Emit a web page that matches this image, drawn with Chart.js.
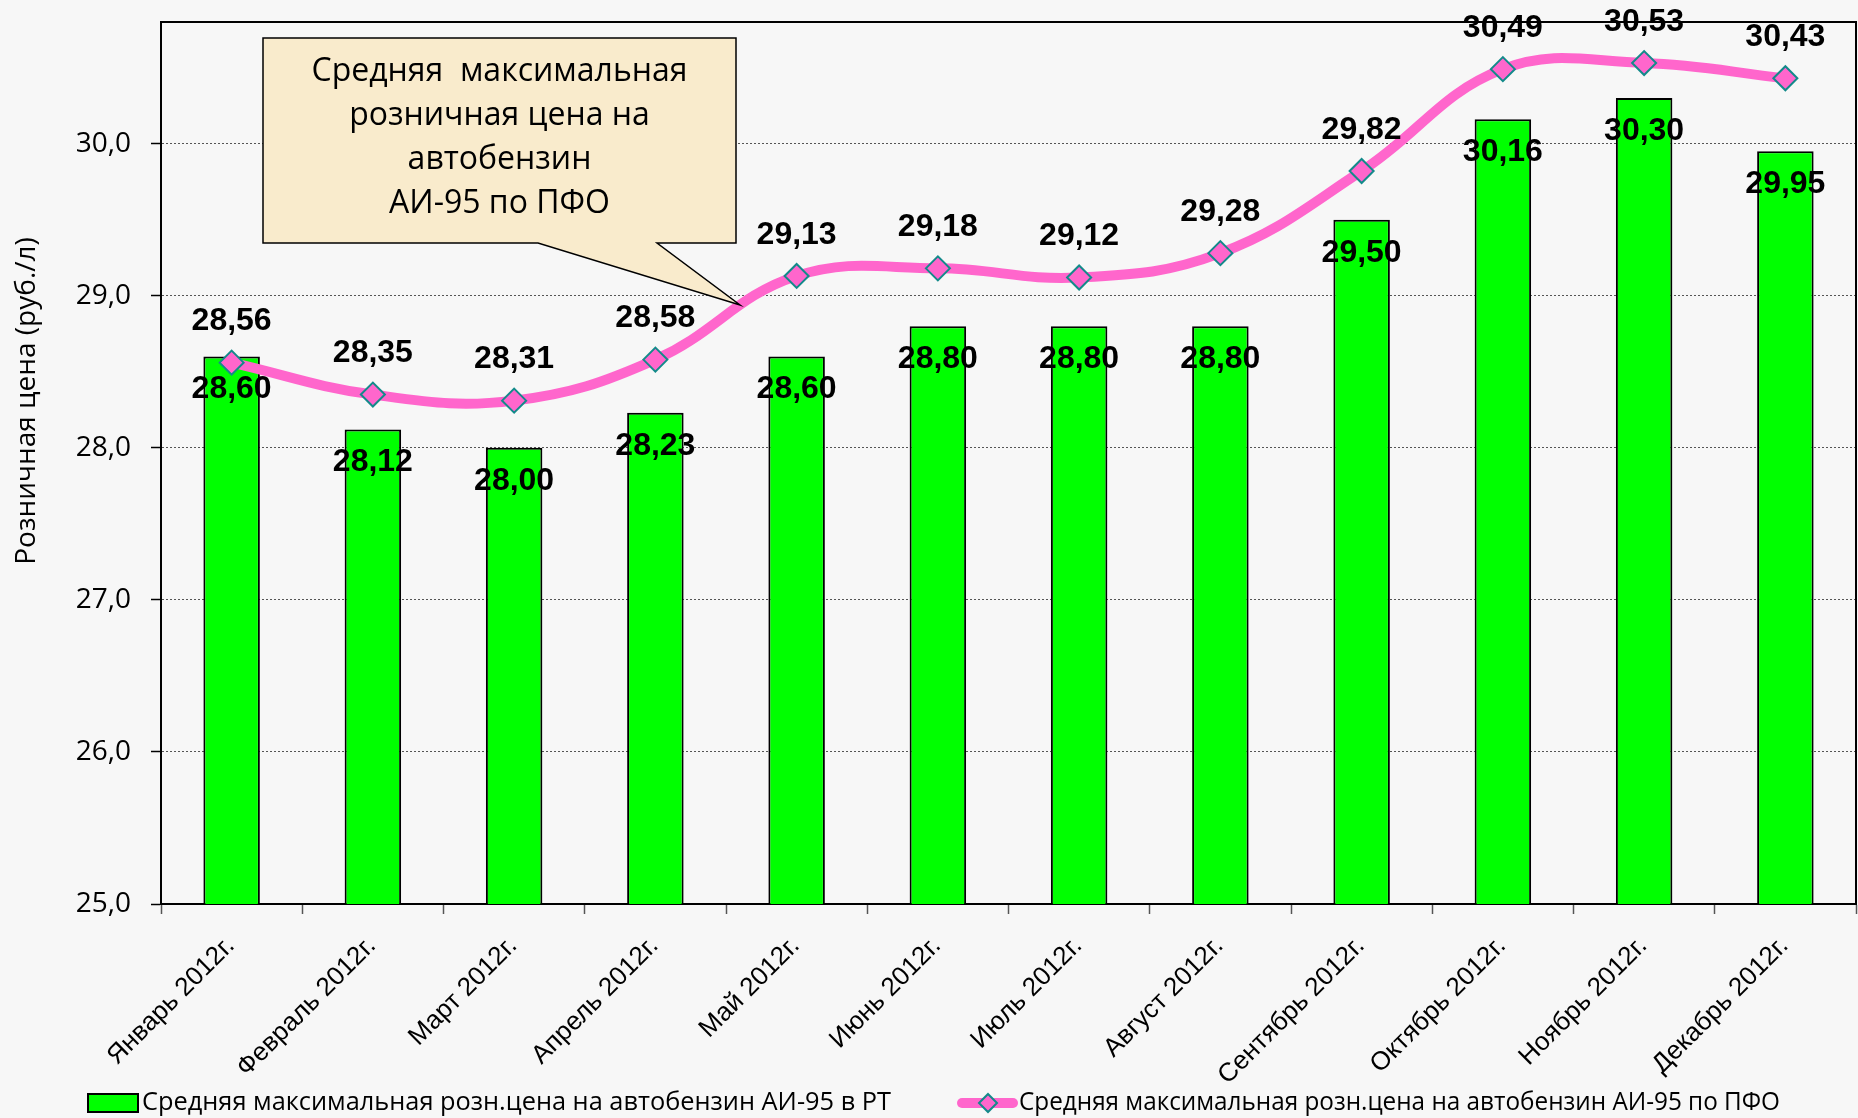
<!DOCTYPE html>
<html lang="ru">
<head>
<meta charset="utf-8">
<title>АИ-95 по ПФО и РТ</title>
<script src="https://cdn.jsdelivr.net/npm/chart.js@4.4.1/dist/chart.umd.min.js"></script>
<style>
  html, body { margin:0; padding:0; background:#f7f7f7; }
  #zone { width:1858px; height:1118px; }
</style>
</head>
<body>
<div id="zone"><canvas id="graphique" width="1858" height="1118"></canvas></div>
<script>
// donnees
const mois = ["Январь 2012г.", "Февраль 2012г.", "Март 2012г.", "Апрель 2012г.", "Май 2012г.", "Июнь 2012г.",
  "Июль 2012г.", "Август 2012г.", "Сентябрь 2012г.", "Октябрь 2012г.", "Ноябрь 2012г.", "Декабрь 2012г."];
const prixRT = [28.60, 28.12, 28.00, 28.23, 28.60, 28.80, 28.80, 28.80, 29.50, 30.16, 30.30, 29.95];
const prixPFO = [28.56, 28.35, 28.31, 28.58, 29.13, 29.18, 29.12, 29.28, 29.82, 30.49, 30.53, 30.43];
const axeMin = 25;
const axeMax = 30.8;
const pasAxe = 1;
const libelleRT = "Средняя максимальная розн.цена на автобензин АИ-95 в РТ";
const libellePFO = "Средняя максимальная розн.цена на автобензин АИ-95 по ПФО";
const titreAxeY = "Розничная цена (руб./л)";
const texteBulle = ["Средняя  максимальная", "розничная цена на", "автобензин", "АИ-95 по ПФО"];

const VERT = "#00ff00";
const ROSE = "#ff66cc";
const SARCELLE = "#138a8a";
const POLICE = "'Open Sans', 'Noto Sans', sans-serif";
const POLICE_VAL = "'Liberation Sans', Arial, sans-serif";

function virgule(v, n) {
  return v.toFixed(n).replace(".", ",");
}

function losange(ctx, x, y, r) {
  ctx.beginPath();
  ctx.moveTo(x, y - r);
  ctx.lineTo(x + r, y);
  ctx.lineTo(x, y + r);
  ctx.lineTo(x - r, y);
  ctx.closePath();
}

const habillage = {
  id: "habillage",
  beforeDraw(chart) {
    const ctx = chart.ctx;
    ctx.save();
    ctx.fillStyle = "#f7f7f7";
    ctx.fillRect(0, 0, chart.width, chart.height);
    ctx.restore();
  },
  afterDatasetsDraw(chart) {
    const ctx = chart.ctx;
    const zone = chart.chartArea;
    ctx.save();

    // cadre du graphique
    ctx.strokeStyle = "#000";
    ctx.lineWidth = 2;
    ctx.beginPath();
    ctx.moveTo(zone.left, zone.top);
    ctx.lineTo(zone.right, zone.top);
    ctx.lineTo(zone.right, zone.bottom);
    ctx.stroke();

    // libelles des mois (inclines a 45 degres)
    const axeX = chart.scales.x;
    ctx.fillStyle = "#000";
    ctx.font = "26px " + POLICE_VAL;
    ctx.textAlign = "right";
    ctx.textBaseline = "alphabetic";
    mois.forEach((m, i) => {
      ctx.save();
      ctx.translate(axeX.getPixelForTick(i) + 4, zone.bottom + 43);
      ctx.rotate(-Math.PI / 4);
      ctx.fillText(m, 0, 0);
      ctx.restore();
    });

    // etiquettes des valeurs
    ctx.font = "bold 32px " + POLICE_VAL;
    ctx.textAlign = "center";
    ctx.textBaseline = "middle";
    const barres = chart.getDatasetMeta(0).data;
    const points = chart.getDatasetMeta(1).data;
    barres.forEach((b, i) => {
      ctx.fillText(virgule(prixRT[i], 2), b.x, b.y + 33);
    });
    points.forEach((p, i) => {
      ctx.fillText(virgule(prixPFO[i], 2), p.x, p.y - 41);
    });

    // bulle de commentaire
    const bx = 263, by = 38, bw = 473, bh = 205;
    ctx.beginPath();
    ctx.moveTo(bx, by);
    ctx.lineTo(bx + bw, by);
    ctx.lineTo(bx + bw, by + bh);
    ctx.lineTo(657, by + bh);
    ctx.lineTo(740, 305);
    ctx.lineTo(538, by + bh);
    ctx.lineTo(bx, by + bh);
    ctx.closePath();
    ctx.fillStyle = "#f9ebcc";
    ctx.fill();
    ctx.lineWidth = 1.5;
    ctx.strokeStyle = "#000";
    ctx.stroke();
    ctx.fillStyle = "#000";
    ctx.font = "32px " + POLICE;
    texteBulle.forEach((l, i) => {
      ctx.fillText(l, bx + bw / 2, 72 + i * 44);
    });

    // titre de l'axe Y
    ctx.save();
    ctx.translate(27, 401);
    ctx.rotate(-Math.PI / 2);
    ctx.font = "28px " + POLICE;
    ctx.fillText(titreAxeY, 0, 0);
    ctx.restore();

    // legende
    const ly = 1103;
    ctx.fillStyle = VERT;
    ctx.fillRect(88, ly - 9, 50, 18);
    ctx.lineWidth = 2;
    ctx.strokeStyle = "#000";
    ctx.strokeRect(88, ly - 9, 50, 18);
    ctx.strokeStyle = ROSE;
    ctx.lineWidth = 10;
    ctx.lineCap = "round";
    ctx.beginPath();
    ctx.moveTo(962, ly);
    ctx.lineTo(1013, ly);
    ctx.stroke();
    losange(ctx, 988, ly, 9);
    ctx.fillStyle = ROSE;
    ctx.fill();
    ctx.lineWidth = 2;
    ctx.strokeStyle = SARCELLE;
    ctx.stroke();
    ctx.fillStyle = "#000";
    ctx.font = "25.4px " + POLICE;
    ctx.textAlign = "left";
    ctx.fillText(libelleRT, 142, ly, 749);
    ctx.fillText(libellePFO, 1019, ly, 761);
    ctx.restore();
  }
};

const ctx = document.getElementById("graphique").getContext("2d");
new Chart(ctx, {
  type: "bar",
  data: {
    labels: mois,
    datasets: [
      {
        type: "bar",
        label: libelleRT,
        data: prixRT,
        backgroundColor: VERT,
        borderColor: "#000",
        borderWidth: 2,
        borderSkipped: false,
        categoryPercentage: 1,
        barPercentage: 0.4,
        order: 1
      },
      {
        type: "line",
        label: libellePFO,
        data: prixPFO,
        borderColor: ROSE,
        borderWidth: 10,
        tension: 0.4,
        pointStyle: "rectRot",
        pointRadius: 12,
        pointBackgroundColor: ROSE,
        pointBorderColor: SARCELLE,
        pointBorderWidth: 2,
        clip: false,
        order: 0
      }
    ]
  },
  options: {
    responsive: false,
    animation: false,
    layout: { autoPadding: false, padding: { left: 0, top: 22, right: 2, bottom: 0 } },
    plugins: {
      legend: { display: false },
      tooltip: { enabled: false }
    },
    scales: {
      x: {
        afterFit: s => { s.height = 214; },
        grid: { offset: true, drawOnChartArea: false, tickLength: 10, tickColor: "#555", tickWidth: 1.5 },
        border: { color: "#000", width: 2 },
        ticks: { display: false }
      },
      y: {
        min: axeMin,
        max: axeMax,
        afterFit: s => { s.width = 161; s.paddingTop = 0; s.paddingBottom = 0; },
        afterBuildTicks: s => { s.ticks = s.ticks.filter(t => Number.isInteger(t.value)); },
        grid: { color: "#555", lineWidth: 1, tickLength: 10, tickColor: "#000", tickWidth: 1.5 },
        border: { color: "#000", width: 2, dash: [2, 2] },
        ticks: {
          stepSize: pasAxe,
          padding: 20,
          color: "#000",
          font: { family: POLICE, size: 28 },
          callback: v => virgule(v, 1)
        }
      }
    }
  },
  plugins: [habillage]
});
</script>
</body>
</html>
